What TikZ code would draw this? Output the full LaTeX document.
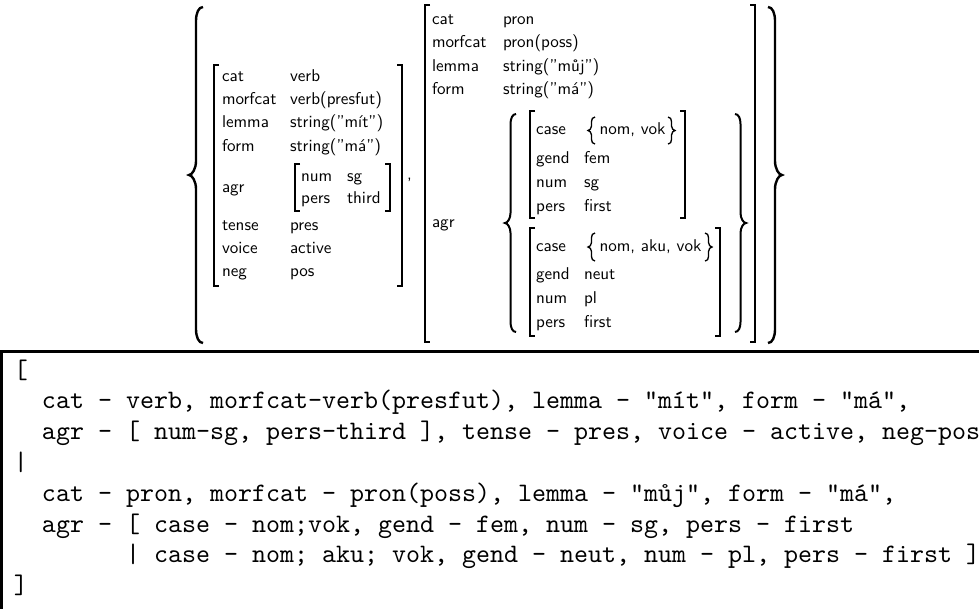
\documentclass[tikz,border=0pt]{standalone}
\usepackage{fontspec}
\newfontfamily\avmfont{lmsans10-regular.otf}
\tikzset{
  avm/.style={font=\avmfont\fontsize{6.4}{7.7}\selectfont, anchor=base west, inner sep=0pt, outer sep=0pt},
  code/.style={font=\ttfamily\fontsize{10}{12}\selectfont, anchor=base west, inner sep=0pt, outer sep=0pt},
  brk/.style={line width=0.45pt},
  bigbrace/.style={line width=0.9pt},
  midbrace/.style={line width=0.75pt},
  smallbrace/.style={line width=0.5pt},
  frame/.style={line width=1pt}
}
% bracket: x, ytop, ybottom, serif offset (+ for [, - for ])
\newcommand\avmbrack[4]{\draw[brk] ({#1+(#4)},#2) -- (#1,#2) -- (#1,#3) -- ({#1+(#4)},#3);}
% brace: style, x cusp, x stem, x ends, ytop, ymid, ybottom, curve length
\newcommand\avmbrace[8]{\draw[#1] (#4,#5) .. controls ({#3+0.35*(#4-#3)},#5) and (#3,{#5+0.45*#8}) .. (#3,{#5+#8}) -- (#3,{#6-#8}) .. controls (#3,{#6-0.45*#8}) and ({#2+0.45*(#3-#2)},#6) .. (#2,#6) .. controls ({#2+0.45*(#3-#2)},#6) and (#3,{#6+0.45*#8}) .. (#3,{#6+#8}) -- (#3,{#7-#8}) .. controls (#3,{#7-0.45*#8}) and ({#3+0.35*(#4-#3)},#7) .. (#4,#7);}
% attribute row: name, x label, x value, baseline, label, value
\newcommand\avmrow[6]{\node[avm] (#1k) at (#2,#4) {#5}; \node[avm] (#1v) at (#3,#4) {#6};}
\begin{document}
\begin{tikzpicture}[x=0.375pt,y=-0.375pt]
\useasboundingbox (0,0) rectangle (979,608);
\fill[white] (0,0) rectangle (979,608);

% outer braces
\avmbrace{bigbrace}{189}{196}{203}{7}{175}{343}{14}
\avmbrace{bigbrace}{782}{775}{768}{7}{175}{343}{14}

% left AVM
\avmbrack{214}{65}{286}{5}
\avmbrack{402}{65}{286}{-5}
\avmrow{Lcat}{222}{290}{81}{cat}{verb}
\avmrow{Lmorf}{222}{290}{104.4}{morfcat}{verb(presfut)}
\avmrow{Llem}{222}{290}{127.8}{lemma}{string(”mít”)}
\avmrow{Lform}{222}{290}{151.2}{form}{string(”má”)}
\node[avm] (Lagrk) at (222,192.5) {agr};
\avmbrack{295}{164}{211}{5}
\avmbrack{390}{164}{211}{-5}
\avmrow{Lnum}{301}{347}{181}{num}{sg}
\avmrow{Lpers}{301}{347}{203.5}{pers}{third}
\avmrow{Ltense}{222}{290}{230}{tense}{pres}
\avmrow{Lvoice}{222}{290}{253.4}{voice}{active}
\avmrow{Lneg}{222}{290}{276.8}{neg}{pos}
\node[avm] (comma) at (407,179) {,};

% right AVM
\avmbrack{425}{5}{342}{5}
\avmbrack{755}{5}{342}{-5}
\avmrow{Rcat}{432}{503}{24}{cat}{pron}
\avmrow{Rmorf}{432}{503}{47.5}{morfcat}{pron(poss)}
\avmrow{Rlem}{432}{503}{71}{lemma}{string(”můj”)}
\avmrow{Rform}{432}{503}{94.5}{form}{string(”má”)}
\node[avm] (Ragrk) at (432,227) {agr};
\avmbrace{midbrace}{505}{510.5}{516}{114}{223}{332}{10}
\avmbrace{midbrace}{746}{740.5}{735}{114}{223}{332}{10}

% first alternative
\avmbrack{530}{111}{218}{5}
\avmbrack{685}{111}{218}{-5}
\node[avm] (Acasek) at (536,134.5) {case};
\avmbrace{smallbrace}{588}{591.5}{595}{117}{130.5}{144}{4.5}
\node[avm] (Acasev) at (599.5,134.5) {nom, vok};
\avmbrace{smallbrace}{675}{671.5}{668}{117}{130.5}{144}{4.5}
\avmrow{Agend}{536}{584}{163}{gend}{fem}
\avmrow{Anum}{536}{584}{187}{num}{sg}
\avmrow{Apers}{536}{584}{211}{pers}{first}

% second alternative
\avmbrack{530}{228}{336}{5}
\avmbrack{720}{228}{336}{-5}
\node[avm] (Bcasek) at (536,251) {case};
\avmbrace{smallbrace}{588}{591.5}{595}{233}{247}{261}{4.5}
\node[avm] (Bcasev) at (599.5,251) {nom, aku, vok};
\avmbrace{smallbrace}{712}{708.5}{705}{233}{247}{261}{4.5}
\avmrow{Bgend}{536}{584}{279}{gend}{neut}
\avmrow{Bnum}{536}{584}{303}{num}{pl}
\avmrow{Bpers}{536}{584}{327}{pers}{first}

% code box
\draw[frame] (1.5,660) -- (1.5,351.5) -- (1000,351.5);
\node[code] (c0) at (14,378) {[};
\node[code] (c1) at (42,408.8) {cat - verb, morfcat-verb(presfut), lemma - "mít", form - "má",};
\node[code] (c2) at (42,439.6) {agr - [ num-sg, pers-third ], tense - pres, voice - active, neg-pos};
\node[code] (c3) at (14,470.4) {|};
\node[code] (c4) at (42,501.2) {cat - pron, morfcat - pron(poss), lemma - "můj", form - "má",};
\node[code] (c5) at (42,532) {agr - [ case - nom;vok, gend - fem, num - sg, pers - first};
\node[code] (c6) at (126,562.8) {| case - nom; aku; vok, gend - neut, num - pl, pers - first ]};
\node[code] (c7) at (14,593.6) {]};
\end{tikzpicture}
\end{document}
